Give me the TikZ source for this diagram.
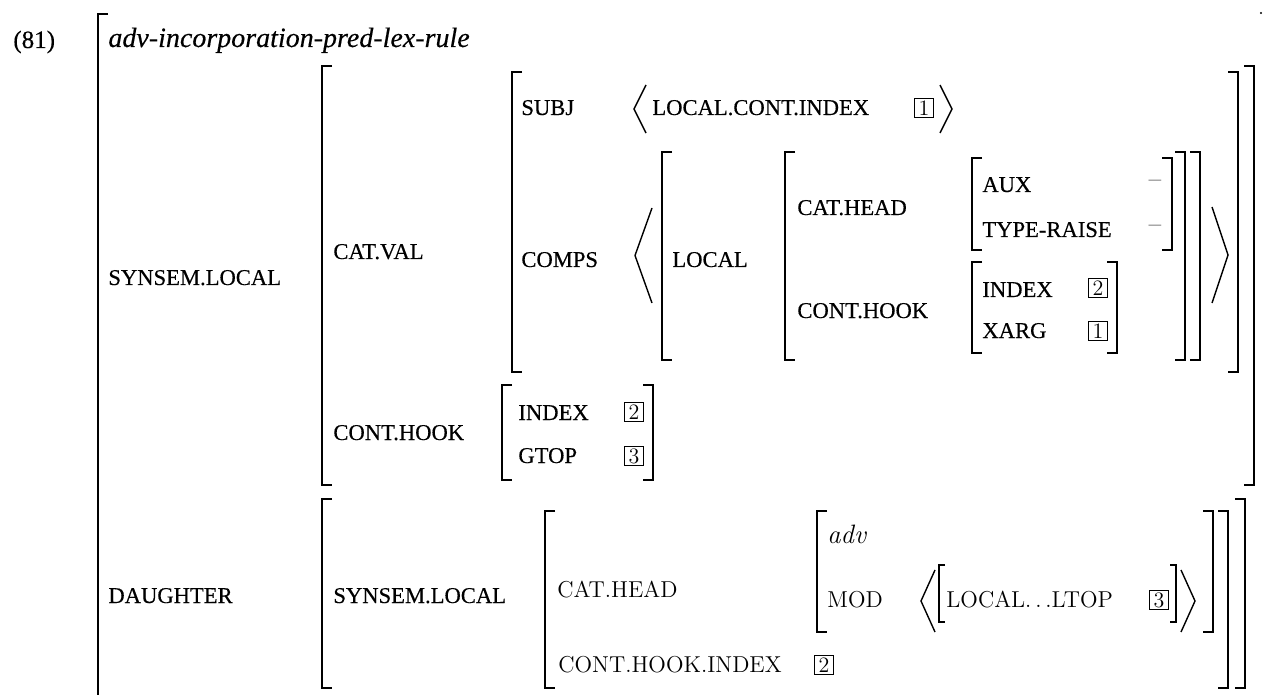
\documentclass[tikz,border=0pt]{standalone}
\usepackage{fontspec}
\newfontfamily\scfont[FakeBold=0.35]{Liberation Serif}
\newcommand{\avmsize}{\fontsize{11.3}{14}\selectfont}
\newcommand{\avmsmall}{\fontsize{11.5}{14}\selectfont}
\tikzset{
  lbl/.style={anchor=base west, inner sep=0pt, font=\scfont\avmsize},
  lblb/.style={anchor=base west, inner sep=0pt, font=\avmsmall},
  tagbox/.style={draw, line width=0.4pt, minimum width=9.5pt, minimum height=9.5pt, inner sep=0pt, font=\fontsize{11}{12}\selectfont},
  brk/.style={line width=1pt},
  thinbrk/.style={line width=0.6pt},
  ang/.style={line width=0.7pt},
}
\newcommand{\avmLB}[3]{\draw[brk] (#1+10,#2) -- (#1,#2) -- (#1,#3) -- (#1+10,#3);}
\newcommand{\avmRB}[3]{\draw[brk] (#1-10,#2) -- (#1,#2) -- (#1,#3) -- (#1-10,#3);}
% point x, top y, bottom y, width
\newcommand{\avmLA}[4]{\draw[ang] (#1+#4,#2) -- (#1,{(#2+#3)/2}) -- (#1+#4,#3);}
\newcommand{\avmRA}[4]{\draw[ang] (#1-#4,#2) -- (#1,{(#2+#3)/2}) -- (#1-#4,#3);}
\begin{document}
\begin{tikzpicture}[x=0.5pt,y=-0.5pt]
\useasboundingbox (0,0) rectangle (1263,695);
% example number and type
\node[anchor=base west, inner sep=0pt, font=\scfont\fontsize{12.5}{15}\selectfont] (num) at (13,48) {(81)};
\draw[brk] (108,14) -- (98,14) -- (98,700);
\node[anchor=base west, inner sep=0pt, font=\scfont\fontsize{14}{17}\selectfont\itshape] (type) at (108,47) {adv-incorporation-pred-lex-rule};
\fill (1261,13) circle (0.6pt);

% SYNSEM.LOCAL
\node[lbl] (sl) at (108,285) {SYNSEM.LOCAL};
\avmLB{322}{66}{485}
\avmRB{1254}{66}{485}
\node[lbl] (catval) at (333,259) {CAT.VAL};
\avmLB{512}{72}{372}
\avmRB{1238}{72}{372}
% SUBJ
\node[lbl] (subj) at (521,115) {SUBJ};
\avmLA{634}{85}{133}{12}
\node[lbl] (lci) at (652,115) {LOCAL.CONT.INDEX};
\node[tagbox] (t1a) at (924,108) {1};
\avmRA{952}{85}{133}{12}
% COMPS
\node[lbl] (comps) at (521,267) {COMPS};
\avmLA{635}{208}{303}{17}
\avmLB{662}{152}{360}
\avmRB{1200}{152}{360}
\node[lbl] (local) at (672,267) {LOCAL};
\avmLB{785}{152}{360}
\avmRB{1185}{152}{360}
\node[lbl] (cathead) at (797,215) {CAT.HEAD};
\node[lbl] (conthook) at (797,318) {CONT.HOOK};
\avmLB{972}{158}{250}
\avmRB{1172}{158}{250}
\node[lbl] (aux) at (982,192) {AUX};
\node[lbl] (tr) at (982,237) {TYPE-RAISE};
\node[anchor=center, inner sep=0pt, font=\fontsize{13}{15}\selectfont] (auxv) at (1155,184) {--};
\node[anchor=center, inner sep=0pt, font=\fontsize{13}{15}\selectfont] (trv) at (1155,229) {--};
\avmLB{972}{262}{353}
\avmRB{1117}{262}{353}
\node[lbl] (idx) at (982,297) {INDEX};
\node[tagbox] (t2a) at (1098,288) {2};
\node[lbl] (xarg) at (982,338) {XARG};
\node[tagbox] (t1b) at (1098,331) {1};
\avmRA{1228}{207}{303}{16}
% CONT.HOOK
\node[lbl] (ch) at (333,440) {CONT.HOOK};
\avmLB{502}{385}{480}
\avmRB{653}{385}{480}
\node[lbl] (idx2) at (518,420) {INDEX};
\node[tagbox] (t2b) at (634,412) {2};
\node[lbl] (gtop) at (518,463) {GTOP};
\node[tagbox] (t3a) at (634,456) {3};

% DAUGHTER
\node[lbl] (dtr) at (108,603) {DAUGHTER};
\avmLB{322}{499}{688}
\avmRB{1245}{499}{688}
\node[lbl] (dsl) at (333,603) {SYNSEM.LOCAL};
\avmLB{545}{511}{688}
\avmRB{1228}{511}{688}
\node[lblb] (dch) at (557,597) {CAT.HEAD};
\avmLB{817}{511}{632}
\avmRB{1213}{511}{632}
\node[anchor=base west, inner sep=0pt, font=\fontsize{13.3}{16}\selectfont\itshape] (adv) at (827,543) {adv};
\node[lblb] (mod) at (827,607) {MOD};
\avmLA{921}{570}{632}{14}
\draw[thinbrk] (945,565) -- (939,565) -- (939,622) -- (945,622);
\node[lblb] (ltop) at (946,607) {LOCAL.\,.\,.LTOP};
\node[tagbox] (t3b) at (1159,600) {3};
\draw[thinbrk] (1170,565) -- (1176,565) -- (1176,622) -- (1170,622);
\avmRA{1195}{570}{632}{14}
\node[lblb] (dchi) at (558,672) {CONT.HOOK.INDEX};
\node[tagbox] (t2c) at (824,665) {2};
\end{tikzpicture}
\end{document}
